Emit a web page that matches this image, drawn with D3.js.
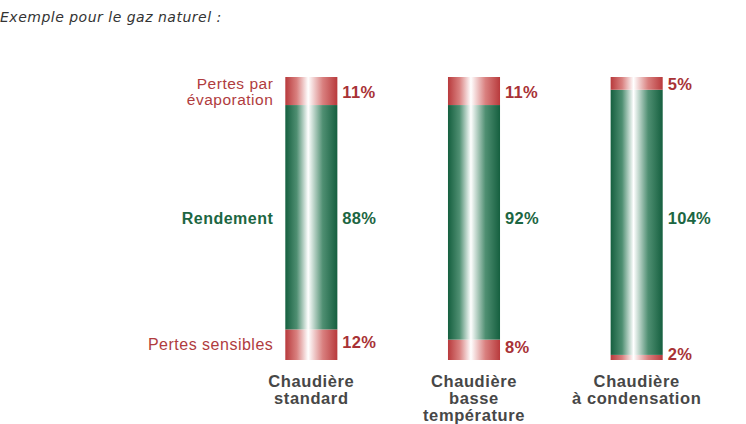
<!DOCTYPE html>
<html>
<head>
<meta charset="utf-8">
<script src="https://cdn.jsdelivr.net/npm/d3@7"></script>
<style>
  body { margin: 0; background: #fff; }
  svg { display: block; }
</style>
</head>
<body>
<div id="chart"></div>
<script>
// data
const chaudieres = [["Chaudière", "standard"], ["Chaudière", "basse", "température"], ["Chaudière", "à condensation"]];
const pertesSensibles = [12, 8, 2];
const rendement = [88, 92, 104];
const pertesEvaporation = [11, 11, 5];
const rowLabels = [["Pertes par", "évaporation"], ["Rendement"], ["Pertes sensibles"]];

const width = 746, height = 424;
const svg = d3.select("#chart").append("svg")
    .attr("width", width)
    .attr("height", height);

// title
svg.append("text")
    .attr("x", 0)
    .attr("y", 22)
    .attr("font-family", "DejaVu Sans, sans-serif")
    .attr("font-style", "italic")
    .attr("font-size", 14)
    .attr("letter-spacing", 0.5)
    .attr("fill", "#333")
    .text("Exemple pour le gaz naturel :");

const x = d3.scaleBand()
    .domain(d3.range(chaudieres.length))
    .range([230, 718])
    .paddingInner(0.68)
    .paddingOuter(0.34);

const total = d3.max(d3.range(3), i => pertesSensibles[i] + rendement[i] + pertesEvaporation[i]);
const y = d3.scaleLinear().domain([0, total]).range([360, 77]);

// gradients
const defs = svg.append("defs");
function grad(id, dark, mid) {
    const g = defs.append("linearGradient").attr("id", id)
        .attr("x1", "0%").attr("x2", "100%").attr("y1", "0%").attr("y2", "0%");
    g.append("stop").attr("offset", "0%").attr("stop-color", dark);
    g.append("stop").attr("offset", "22%").attr("stop-color", mid);
    g.append("stop").attr("offset", "44%").attr("stop-color", "#ffffff");
    g.append("stop").attr("offset", "72%").attr("stop-color", mid);
    g.append("stop").attr("offset", "100%").attr("stop-color", dark);
}
grad("gGreen", "#155f3f", "#4f8f72");
grad("gRed", "#b83a3c", "#d9807f");

const stacks = d3.range(3).map(i => {
    const a = pertesSensibles[i], b = a + rendement[i], c = b + pertesEvaporation[i];
    return [
        {i, y0: 0, y1: a, fill: "url(#gRed)", v: pertesSensibles[i], kind: "bas"},
        {i, y0: a, y1: b, fill: "url(#gGreen)", v: rendement[i], kind: "mid"},
        {i, y0: b, y1: c, fill: "url(#gRed)", v: pertesEvaporation[i], kind: "haut"}
    ];
}).flat();

svg.append("g").selectAll("rect")
    .data(stacks)
    .join("rect")
    .attr("x", d => x(d.i))
    .attr("width", x.bandwidth())
    .attr("y", d => y(d.y1))
    .attr("height", d => y(d.y0) - y(d.y1))
    .attr("fill", d => d.fill);

const red = "#a83236", green = "#1c6642";
const midY = 218;
const font = "Liberation Sans, Arial, sans-serif";

// value labels
svg.append("g").selectAll("text")
    .data(stacks)
    .join("text")
    .attr("x", d => x(d.i) + x.bandwidth() + 5)
    .attr("y", d => d.kind === "mid" ? midY : (y(d.y0) + y(d.y1)) / 2 + (d.kind === "bas" ? -3 : 1))
    .attr("dy", "0.36em")
    .attr("font-family", font)
    .attr("font-weight", "bold")
    .attr("font-size", 16.5)
    .attr("letter-spacing", 0.3)
    .attr("fill", d => d.kind === "mid" ? green : red)
    .text(d => d.v + "%");

// row labels on the left
const lx = x(0) - 12;
const rowY = [[83, 99.5], [midY], [344]];
rowLabels.forEach((lines, r) => {
    lines.forEach((t, k) => {
        svg.append("text")
            .attr("x", lx)
            .attr("y", rowY[r][k])
            .attr("dy", "0.36em")
            .attr("text-anchor", "end")
            .attr("font-family", font)
            .attr("font-weight", r === 1 ? "bold" : "normal")
            .attr("font-size", r === 0 ? 15.5 : 16)
            .attr("letter-spacing", 0.5)
            .attr("fill", r === 1 ? green : "#b03c3e")
            .text(t);
    });
});

// category labels
chaudieres.forEach((lines, i) => {
    lines.forEach((t, k) => {
        svg.append("text")
            .attr("x", x(i) + x.bandwidth() / 2)
            .attr("y", 381 + k * 16.8)
            .attr("dy", "0.36em")
            .attr("text-anchor", "middle")
            .attr("font-family", font)
            .attr("font-weight", "bold")
            .attr("font-size", 16.5)
            .attr("letter-spacing", 0.6)
            .attr("fill", "#474747")
            .text(t);
    });
});
</script>
</body>
</html>
